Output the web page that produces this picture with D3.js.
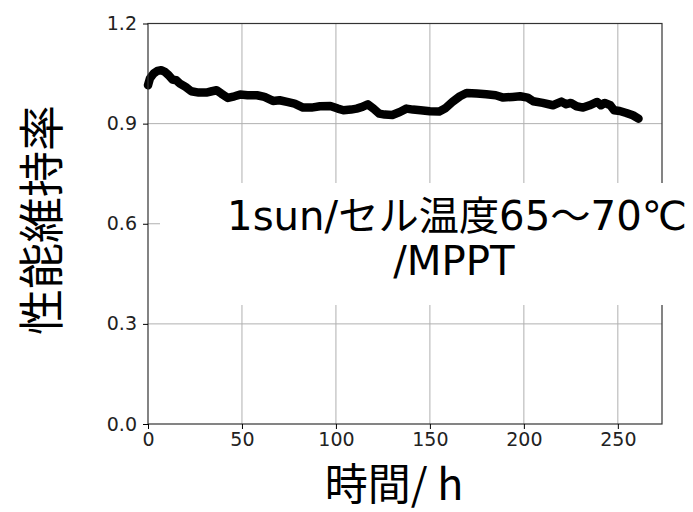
<!DOCTYPE html>
<html>
<head>
<meta charset="utf-8">
<script src="https://cdn.jsdelivr.net/npm/d3@7"></script>
<style>
  body { margin: 0; background: #fff; }
  .tick text { font-family: "DejaVu Sans", sans-serif; font-size: 19px; fill: #222; }
</style>
</head>
<body>
<div id="chart"></div>
<script>
// elapsed hours and retention ratio
const hours = [0, 1, 3, 5, 7, 9, 11, 13, 15, 17, 20, 23, 27, 31, 34, 36.5, 39, 42.5, 46, 49,
  53, 58, 62, 66.5, 70, 74, 78, 82.5, 87, 91.5, 97, 101, 104, 108, 111, 114, 117, 120, 123, 126,
  130, 134, 137.5, 141, 145, 150, 155, 158, 162, 166, 169.5, 175, 180, 185, 189, 194, 198, 202, 205, 210,
  215.5, 220, 222.5, 225, 228, 231.5, 235, 239, 241, 243, 246, 248, 251, 254.5, 258, 261];
const retention = [1.015, 1.035, 1.05, 1.058, 1.06, 1.055, 1.045, 1.032, 1.03, 1.02, 1.01, 0.997, 0.993, 0.993, 0.997, 1.0, 0.99, 0.977, 0.982, 0.987,
  0.985, 0.985, 0.98, 0.968, 0.97, 0.965, 0.96, 0.948, 0.948, 0.952, 0.953, 0.945, 0.94, 0.942, 0.945, 0.95, 0.958, 0.945, 0.93, 0.927,
  0.926, 0.935, 0.945, 0.942, 0.94, 0.937, 0.936, 0.945, 0.965, 0.982, 0.992, 0.99, 0.988, 0.985, 0.978, 0.98, 0.982, 0.978, 0.967, 0.962,
  0.955, 0.966, 0.958, 0.962, 0.952, 0.948, 0.955, 0.965, 0.955, 0.962, 0.955, 0.94, 0.938, 0.932, 0.925, 0.915];
const xTicks = [0, 50, 100, 150, 200, 250];
const yTicks = [0.0, 0.3, 0.6, 0.9, 1.2];
const noteLines = ["1sun/セル温度65～70℃", "/MPPT"];

const W = 693, H = 512;
const margin = {top: 23.5, right: 31, bottom: 88, left: 148};
const width = W - margin.left - margin.right;
const height = H - margin.top - margin.bottom;

const svg = d3.select("#chart").append("svg")
  .attr("width", W).attr("height", H);
const g = svg.append("g")
  .attr("transform", `translate(${margin.left}, ${margin.top})`);

const x = d3.scaleLinear().domain([0, 273.5]).range([0, width]);
const y = d3.scaleLinear().domain([0, 1.2]).range([height, 0]);

// grid
g.append("g").selectAll("line").data(xTicks.slice(1)).enter().append("line")
  .attr("x1", d => x(d)).attr("x2", d => x(d))
  .attr("y1", 0).attr("y2", height)
  .attr("stroke", "#b0b0b0").attr("stroke-width", 1);
g.append("g").selectAll("line").data(yTicks.slice(1, -1)).enter().append("line")
  .attr("x1", 0).attr("x2", width)
  .attr("y1", d => y(d)).attr("y2", d => y(d))
  .attr("stroke", "#b0b0b0").attr("stroke-width", 1);

// data line
const pts = hours.map((h, i) => [h, retention[i]]);
g.append("path")
  .datum(pts)
  .attr("fill", "none")
  .attr("stroke", "#000")
  .attr("stroke-width", 8.5)
  .attr("stroke-linejoin", "round")
  .attr("stroke-linecap", "round")
  .attr("d", d3.line().x(d => x(d[0])).y(d => y(d[1])));

// frame
g.append("rect")
  .attr("width", width).attr("height", height)
  .attr("fill", "none").attr("stroke", "#333").attr("stroke-width", 1.2);

// axes
g.append("g")
  .attr("transform", `translate(0, ${height})`)
  .call(d3.axisBottom(x).tickValues(xTicks).tickFormat(d3.format("d")).tickSize(5).tickPadding(4))
  .call(a => a.select(".domain").remove());
g.append("g")
  .call(d3.axisLeft(y).tickValues(yTicks).tickFormat(d3.format(".1f")).tickSize(5).tickPadding(6))
  .call(a => a.select(".domain").remove());

// annotation with white box over grid
svg.append("rect")
  .attr("x", 160).attr("y", 183).attr("width", W - 160).attr("height", 122)
  .attr("fill", "#fff");
const noteFont = "'DejaVu Sans', 'Noto Sans CJK JP', sans-serif";
const note = svg.selectAll(".note").data(noteLines).enter().append("text")
  .attr("class", "note")
  .attr("x", (d, i) => i === 0 ? 457 : 454)
  .attr("y", (d, i) => i === 0 ? 230 : 275)
  .attr("text-anchor", "middle")
  .style("font-family", noteFont)
  .style("font-size", "40px")
  .text(d => d);
// fit first line to the width seen in the reference (~460px)
const w0 = note.node().getComputedTextLength();
const fs = Math.min(44, Math.max(34, 40 * 460 / w0));
note.style("font-size", fs + "px");

// axis titles
svg.append("text")
  .attr("transform", "translate(38, 220) rotate(-90)")
  .attr("text-anchor", "middle")
  .attr("dominant-baseline", "central")
  .style("font-family", "'Noto Sans CJK JP', sans-serif")
  .style("font-size", "46px")
  .text("性能維持率");
svg.append("text")
  .attr("x", 394).attr("y", 500)
  .attr("text-anchor", "middle")
  .style("font-family", "'Noto Sans CJK JP', sans-serif")
  .style("font-size", "43px")
  .text("時間/ h");
</script>
</body>
</html>
